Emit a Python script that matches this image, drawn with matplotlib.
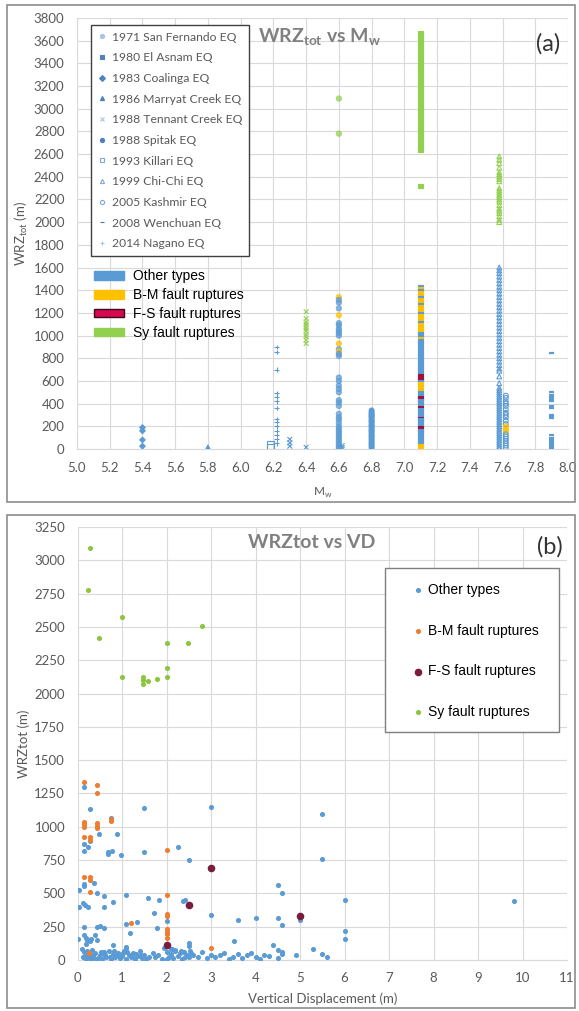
import matplotlib
matplotlib.use("Agg")
import matplotlib.pyplot as plt
from matplotlib.patches import Rectangle, Patch
from matplotlib.lines import Line2D

plt.rcParams['font.family'] = ['Lato', 'DejaVu Sans']
plt.rcParams['mathtext.fontset'] = 'custom'
plt.rcParams['mathtext.rm'] = 'Lato'
plt.rcParams['mathtext.bf'] = 'Lato:bold'

# ---------------- panel (a) data : WRZtot vs Mw, per earthquake ----------------
# type codes: O = other types, B = B-M, F = F-S, S = Sy fault ruptures
eq_labels = ["1971 San Fernando EQ", "1980 El Asnam EQ", "1983 Coalinga EQ",
             "1986 Marryat Creek EQ", "1988 Tennant Creek EQ", "1988 Spitak EQ",
             "1993 Killari EQ", "1999 Chi-Chi EQ", "2005 Kashmir EQ",
             "2008 Wenchuan EQ", "2014 Nagano EQ"]

sanfernando_mw = 6.6
sanfernando_wrz = [3090, 2780, 1340, 1315, 1290, 1240, 1180, 1110, 1090, 1060, 1040, 1020,
                   1000, 930, 880, 860, 840, 820, 630, 600, 560, 530, 500, 430, 410, 380,
                   310, 280, 260, 230, 200, 180, 160, 140, 120, 100, 80, 60, 40, 20, 5]
sanfernando_type = "SSBOOOBOOOOOOBOBOOOOOOOOOOOOOOOOOOOOOOOOO"

elasnam_mw = 7.1
elasnam_wrz = [3665, 3640, 3610, 3560, 3530, 3500, 3480, 3440, 3400, 3380, 3350, 3320,
               3290, 3260, 3230, 3200, 3170, 3140, 3110, 3080, 3050, 3020, 2990, 2960,
               2930, 2900, 2870, 2840, 2810, 2780, 2750, 2720, 2690, 2660, 2640, 2320,
               1430, 1410, 1390, 1370, 1350, 1330, 1310, 1290, 1270, 1250, 1230, 1210,
               1190, 1170, 1150, 1130, 1110, 1090, 1070, 1050, 1030, 1010, 990, 970,
               950, 930, 900, 880, 860, 840, 820, 800, 780, 760, 740, 720, 700, 680,
               660, 640, 625, 610, 590, 570, 550, 530, 510, 490, 470, 450, 435, 420,
               400, 380, 360, 340, 320, 300, 280, 265, 250, 230, 210, 190, 180, 160,
               140, 120, 100, 80, 60, 40, 20, 5]
elasnam_type = ("SSSSSSSSSSSSSSSSSSSSSSSSSSSSSSSSSSSS"
                "OBOBBOBBOBBBOBBBOBBBBOOBOOOOOOOOOOOOOOO"
                "FFFOBBBBOOFFOOOFOOOOFOOOOFOOOOOOOBB")

coalinga_mw = 5.4
coalinga_wrz = [190, 160, 80, 25]
coalinga_type = "OOOO"

marryat_mw = 5.8
marryat_wrz = [12, 4]
marryat_type = "OO"

tennant_mw = [6.3, 6.3, 6.3, 6.4, 6.4, 6.4, 6.4, 6.4, 6.4, 6.4, 6.4, 6.4, 6.4, 6.4, 6.4, 6.62, 6.62]
tennant_wrz = [85, 55, 25, 15, 1210, 1150, 1120, 1100, 1080, 1060, 1040, 1010, 990, 960, 930, 30, 12]
tennant_type = "OOOOSSSSSSSSSSSOO"

spitak_mw = 6.8
spitak_wrz = [340, 325, 310, 300, 290, 280, 265, 250, 240, 225, 210, 200, 185, 170, 160,
              150, 135, 120, 110, 95, 80, 65, 50, 40, 25, 10]
spitak_type = "O" * len(spitak_wrz)

killari_mw = 6.18
killari_wrz = [35, 10]
killari_type = "OO"

chichi_mw = 7.58
chichi_wrz = [2580, 2550, 2520, 2480, 2440, 2420, 2400, 2380, 2360, 2300, 2280, 2260,
              2240, 2220, 2200, 2180, 2150, 2120, 2100, 2080, 2050, 2020, 2000,
              1600, 1575, 1550, 1520, 1490, 1460, 1430, 1400, 1370, 1340, 1310, 1280,
              1250, 1220, 1190, 1160, 1130, 1100, 1070, 1040, 1010, 980, 950, 920, 890,
              860, 830, 800, 770, 740, 710, 690, 640, 580, 540, 520, 500, 480, 460, 440,
              420, 400, 380, 360, 340, 320, 300, 280, 260, 240, 220, 200, 180, 160, 140,
              120, 100, 80, 60, 40, 20, 5]
chichi_type = "S" * 23 + "O" * 62

kashmir_mw = 7.62
kashmir_wrz = [470, 450, 420, 400, 380, 350, 320, 300, 280, 250, 220, 200, 185, 170, 155,
               130, 110, 90, 70, 50, 30, 10]
kashmir_type = "OOOOOOOOOOOBBBBOOOOOOO"

wenchuan_mw = 7.9
wenchuan_wrz = [850, 500, 480, 460, 440, 420, 380, 360, 300, 280, 270, 120, 100, 85, 70,
                55, 40, 25, 10]
wenchuan_type = "O" * len(wenchuan_wrz)

nagano_mw = 6.22
nagano_wrz = [900, 855, 700, 490, 460, 420, 360, 265, 240, 200, 160, 125, 90, 50]
nagano_type = "O" * len(nagano_wrz)

# ---------------- panel (b) data : WRZtot vs vertical displacement ----------------
other_vd = [0.14, 0.27, 1.49, 3.0, 0.75, 0.48, 0.89, 0.14, 0.23, 0.29, 0.14, 0.68, 0.68,
            0.77, 0.98, 1.49, 2.25, 2.5, 5.5, 5.5, 0.14, 0.14, 0.36, 0.03, 0.44, 0.6, 1.1,
            1.58, 1.83, 2.37, 2.41, 0.04, 0.12, 0.17, 0.23, 0.59, 0.79, 1.73, 3.0, 1.34,
            1.1, 2.0, 0.5, 0.44, 0.6, 0.14, 1.79, 1.19, 0.0, 0.15, 0.18, 0.22, 0.27, 0.3,
            0.2, 0.44, 0.4, 0.8, 1.1, 1.1, 2.5, 2.5, 3.51, 4.5, 4.6, 4.5, 4.6, 6.0, 5.0,
            6.0, 6.0, 9.8, 4.0, 3.6, 4.4, 4.5, 4.6, 5.3, 5.5, 5.6, 4.9,
            0.1, 0.15, 0.2, 0.25, 0.3, 0.35, 0.4, 0.45, 0.5, 0.55, 0.6, 0.65, 0.7, 0.75,
            0.8, 0.85, 0.9, 0.95, 1.0, 1.05, 1.1, 1.15, 1.2, 1.25, 1.3, 1.35, 1.4, 1.45,
            1.5, 1.55, 1.6, 1.7, 1.75, 1.8, 1.9, 2.0, 2.05, 2.1, 2.15, 2.2, 2.25, 2.3,
            2.35, 2.4, 2.45, 2.5, 2.55, 2.6, 2.7, 2.8, 2.9, 3.0, 3.1, 3.2, 3.3, 3.4, 3.5,
            3.6, 3.7, 3.8, 3.9, 4.0, 4.1, 4.2, 4.3, 4.5, 4.6, 0.12, 0.18, 0.22, 0.28,
            0.33, 0.42, 0.52, 0.62, 0.72, 0.82, 0.92, 1.02, 1.12, 1.22, 1.32, 1.42, 2.02,
            2.12, 2.32, 2.42, 2.52, 1.95, 2.1, 2.2]
other_wrz = [1296, 1131, 1138, 1151, 1063, 946, 946, 871, 851, 893, 821, 813, 796, 818,
             786, 808, 846, 751, 1094, 760, 570, 555, 580, 525, 500, 480, 485, 468, 450,
             445, 450, 395, 430, 413, 400, 400, 435, 350, 340, 283, 270, 295, 258, 245,
             240, 250, 238, 200, 155, 185, 165, 150, 140, 160, 120, 150, 188, 113, 100,
             88, 125, 105, 143, 560, 502, 317, 265, 450, 297, 215, 156, 443, 314, 302,
             111, 74, 62, 79, 45, 25, 37,
             80, 60, 40, 20, 10, 30, 50, 15, 35, 5, 60, 25, 70, 10, 45, 20, 55, 15, 30,
             70, 10, 40, 20, 55, 5, 30, 65, 15, 40, 10, 25, 50, 20, 35, 10, 60, 25, 45,
             15, 70, 30, 50, 10, 60, 35, 20, 55, 40, 25, 60, 15, 40, 20, 35, 50, 10, 25,
             45, 15, 35, 50, 20, 10, 40, 30, 15, 45, 25, 5, 65, 45, 75, 5, 60, 40, 20,
             65, 35, 50, 60, 30, 45, 35, 5, 80, 65, 25, 70, 90, 85, 75]

bm_vd = [0.14, 0.44, 0.44, 0.75, 0.75, 0.14, 0.14, 0.14, 0.44, 0.44, 0.44, 0.14, 0.29,
         0.29, 2.0, 0.14, 0.29, 0.29, 0.29, 2.0, 2.0, 2.0, 1.2, 2.0, 2.0, 2.0, 2.0, 3.0,
         0.25]
bm_wrz = [1338, 1313, 1251, 1055, 1040, 1038, 1018, 1001, 1026, 1006, 993, 926, 921, 901,
          826, 626, 626, 601, 513, 488, 345, 330, 275, 230, 213, 195, 163, 88, 55]

fs_vd = [3.0, 2.5, 5.0, 2.0]
fs_wrz = [688, 410, 330, 113]

sy_vd = [0.28, 0.23, 1.0, 0.49, 2.79, 2.0, 2.49, 2.0, 1.0, 2.0, 1.48, 1.48, 1.48, 1.58, 1.78]
sy_wrz = [3090, 2777, 2577, 2419, 2507, 2382, 2377, 2194, 2122, 2122, 2122, 2102, 2072,
          2095, 2110]

# ---------------- styles ----------------
type_colors = {"O": "#5B9BD5", "B": "#FFC000", "F": "#A0103A", "S": "#92D050"}
tick_color = "#595959"
grid_color = "#D9D9D9"

fig = plt.figure(figsize=(5.79, 10.11), dpi=100)

# outer chart borders
fig.add_artist(Rectangle((7 / 579, 1 - 502 / 1011), 568 / 579, 497 / 1011,
                         transform=fig.transFigure, fill=False, ec="#8C8C8C", lw=1.2))
fig.add_artist(Rectangle((7 / 579, 1 - 1008 / 1011), 568 / 579, 493 / 1011,
                         transform=fig.transFigure, fill=False, ec="#8C8C8C", lw=1.2))


def style_axes(ax):
    for s in ["top", "right", "left"]:
        ax.spines[s].set_visible(False)
    ax.spines["bottom"].set_color(grid_color)
    ax.grid(True, color=grid_color, lw=0.8)
    ax.set_axisbelow(True)
    ax.tick_params(length=0, colors=tick_color, labelsize=9.5)
    ax.tick_params(axis="y", pad=9)
    ax.tick_params(axis="x", pad=9)


# ---------------- panel (a) ----------------
ax1 = fig.add_axes([77 / 579, 1 - 449 / 1011, 491 / 579, 431 / 1011])
style_axes(ax1)

eq_groups = [
    (sanfernando_mw, sanfernando_wrz, sanfernando_type, "o", True, 14, 0.7),
    (elasnam_mw, elasnam_wrz, elasnam_type, "s", True, 11, 1.0),
    (coalinga_mw, coalinga_wrz, coalinga_type, "D", True, 8, 1.0),
    (marryat_mw, marryat_wrz, marryat_type, "^", True, 14, 1.0),
    (tennant_mw, tennant_wrz, tennant_type, "x", True, 12, 1.0),
    (spitak_mw, spitak_wrz, spitak_type, "o", True, 12, 1.0),
    (killari_mw, killari_wrz, killari_type, "s", False, 26, 1.0),
    (chichi_mw, chichi_wrz, chichi_type, "^", False, 12, 1.0),
    (kashmir_mw, kashmir_wrz, kashmir_type, "o", False, 12, 1.0),
    (wenchuan_mw, wenchuan_wrz, wenchuan_type, "_", True, 16, 1.0),
    (nagano_mw, nagano_wrz, nagano_type, "+", True, 10, 1.0),
]
for mw, wrz, types, mk, filled, size, alpha in eq_groups:
    xs = mw if isinstance(mw, list) else [mw] * len(wrz)
    cols = [type_colors[t] for t in types]
    lw = 1.6 if mk == "_" else 0.8
    if filled:
        ax1.scatter(xs, wrz, s=size, marker=mk, c=cols, linewidths=lw, alpha=alpha, zorder=3)
    else:
        ax1.scatter(xs, wrz, s=size, marker=mk, facecolors="none", edgecolors=cols,
                    linewidths=lw, alpha=alpha, zorder=3)

ax1.set_xlim(5.0, 8.0)
ax1.set_ylim(0, 3800)
ax1.set_xticks([5.0 + 0.2 * i for i in range(16)])
ax1.set_xticklabels(["%.1f" % (5.0 + 0.2 * i) for i in range(16)])
ax1.set_yticks(range(0, 3801, 200))
ax1.set_xlabel(r"M$_{\mathregular{w}}$", color=tick_color, fontsize=8.5, labelpad=9)
ax1.set_ylabel(r"WRZ$_{\mathregular{tot}}$ (m)", color=tick_color, fontsize=9.5, labelpad=3)
ax1.text(0.368, 0.955, r"WRZ$_{\mathbf{tot}}$ vs M$_{\mathbf{w}}$", transform=ax1.transAxes,
         fontsize=14, fontweight="bold", color="#808080", ha="left", va="center")
ax1.text(0.96, 0.94, "(a)", transform=ax1.transAxes, fontsize=17, color="#333333",
         ha="center", va="center")

eq_markers = ["o", "s", "D", "^", "x", "o", "s", "^", "o", "_", "+"]
eq_filled = [True, True, True, True, True, True, False, False, False, True, True]
eq_handle_colors = ["#A9C4E4", "#4F81BD", "#4F81BD", "#4F81BD", "#A9C4E4", "#4F81BD",
                    "#7FA7D8", "#7FA7D8", "#7FA7D8", "#4F6FA0", "#A9C4E4"]
eq_handles = []
for mk, fl, col in zip(eq_markers, eq_filled, eq_handle_colors):
    eq_handles.append(Line2D([], [], ls="none", marker=mk, ms=3, mew=0.8, color=col,
                             mfc=col if fl else "none"))
leg1 = ax1.legend(eq_handles, eq_labels, loc="upper left", bbox_to_anchor=(0.0285, 0.984),
                  borderaxespad=0, fontsize=8.7, frameon=True, fancybox=False,
                  labelspacing=0.8, handlelength=0.8, handletextpad=0.4,
                  borderpad=0.55, labelcolor=tick_color)
leg1.get_frame().set_edgecolor("#404040")
leg1.get_frame().set_linewidth(1.0)
leg1.get_frame().set_alpha(1)
ax1.add_artist(leg1)

type_labels = ["Other types", "B-M fault ruptures", "F-S fault ruptures", "Sy fault ruptures"]
type_handles = [Patch(fc=type_colors["O"], ec=type_colors["O"]),
                Patch(fc=type_colors["B"], ec=type_colors["B"]),
                Patch(fc="#D6084F", ec="#3A0A1A", lw=1.0),
                Patch(fc=type_colors["S"], ec=type_colors["S"])]
leg2 = ax1.legend(type_handles, type_labels, loc="upper left", bbox_to_anchor=(0.024, 0.43),
                  borderaxespad=0, frameon=False, handlelength=2.1, handleheight=0.6,
                  handletextpad=0.7, labelspacing=0.35,
                  prop={"family": "Liberation Sans", "size": 10})

# ---------------- panel (b) ----------------
ax2 = fig.add_axes([77.5 / 579, 1 - 960 / 1011, 489.5 / 579, 433 / 1011])
style_axes(ax2)
ax2.scatter(other_vd, other_wrz, s=7, color="#5B9BD5", label="Other types", zorder=3)
ax2.scatter(bm_vd, bm_wrz, s=7, color="#ED7D31", label="B-M fault ruptures", zorder=3)
ax2.scatter(fs_vd, fs_wrz, s=20, color="#7B1C3C", label="F-S fault ruptures", zorder=3)
ax2.scatter(sy_vd, sy_wrz, s=7, color="#8CC63F", label="Sy fault ruptures", zorder=3)
ax2.set_xlim(0, 11)
ax2.set_ylim(0, 3250)
ax2.set_xticks(range(0, 12))
ax2.set_yticks(range(0, 3251, 250))
ax2.set_xlabel("Vertical Displacement (m)", color=tick_color, fontsize=9.5, labelpad=6)
ax2.set_ylabel("WRZtot (m)", color=tick_color, fontsize=9.5, labelpad=3)
ax2.text(0.348, 0.965, "WRZtot vs VD", transform=ax2.transAxes, fontsize=14,
         fontweight="bold", color="#808080", ha="left", va="center")
ax2.text(0.965, 0.955, "(b)", transform=ax2.transAxes, fontsize=17, color="#333333",
         ha="center", va="center")
# legend frame drawn separately so the entries can sit off-centre like the original
frame_b = Rectangle((385 / 579, 1 - 732 / 1011), 174 / 579, 164 / 1011,
                    transform=fig.transFigure, fill=True, fc="white",
                    ec="#7F7F7F", lw=1.0, zorder=4, clip_on=False)
ax2.add_artist(frame_b)
leg3 = ax2.legend(loc="upper left", bbox_to_anchor=((409.6 - 77.5) / 489.5, 1 - (583 - 527) / 433),
                  borderaxespad=0, frameon=False, markerscale=1.0, handlelength=1.2,
                  handletextpad=0.15, labelspacing=1.92, borderpad=0,
                  prop={"family": "Liberation Sans", "size": 10})
leg3.set_zorder(5)

fig.savefig("out.png", dpi=100)
